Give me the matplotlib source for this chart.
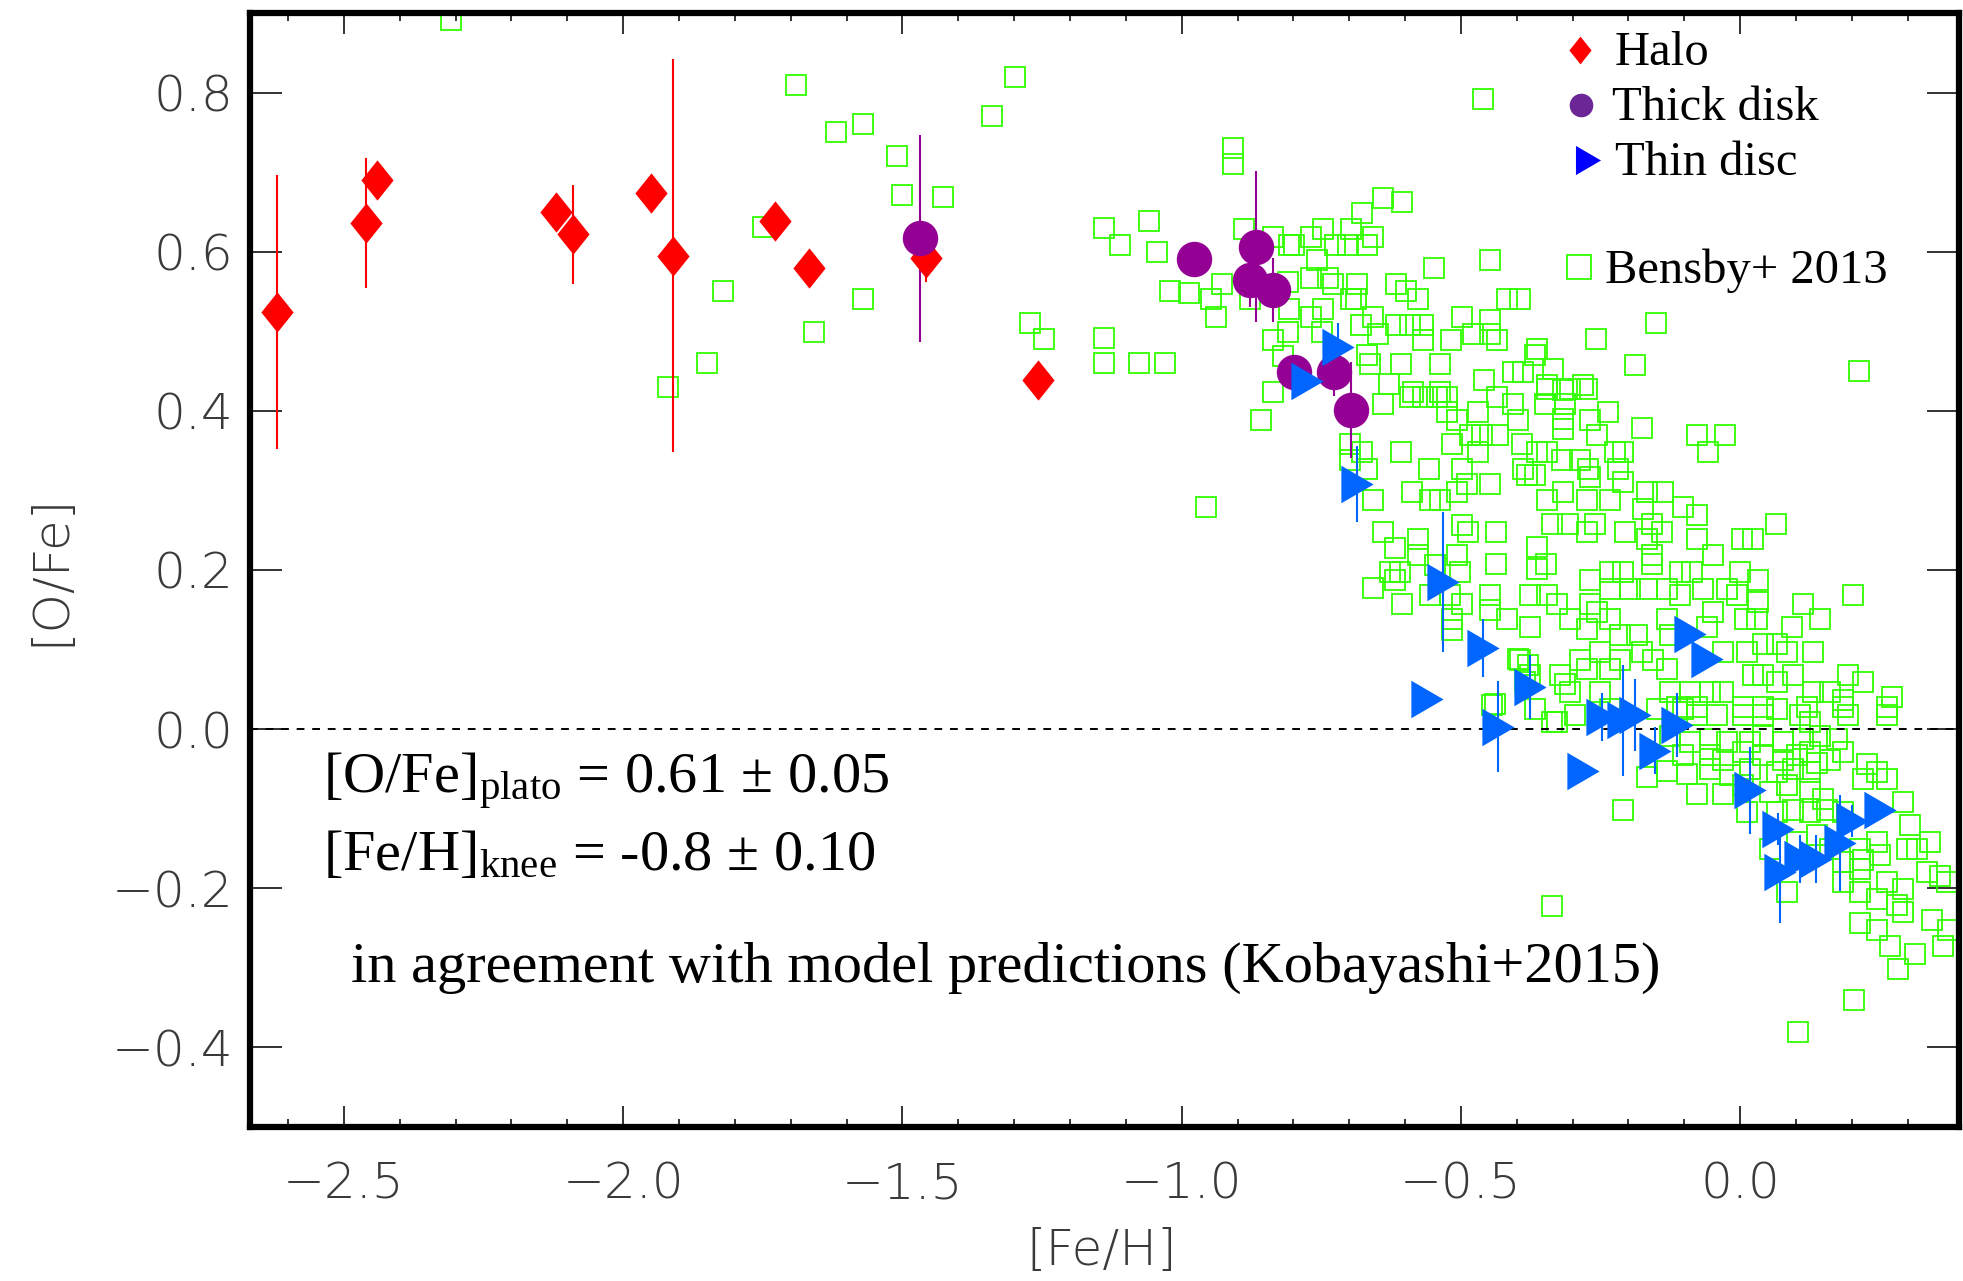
import numpy as np
import matplotlib.pyplot as plt
from matplotlib.ticker import MultipleLocator, FixedLocator

plt.rcParams['mathtext.fontset'] = 'custom'
plt.rcParams['mathtext.rm'] = 'Liberation Serif'
plt.rcParams['mathtext.it'] = 'Liberation Serif:italic'

# --- datos ---
halo_feh = [-2.619, -2.46, -2.44, -2.121, -2.09, -1.951, -1.910, -1.729, -1.668, -1.457, -1.258]
halo_ofe = [0.524, 0.636, 0.690, 0.650, 0.622, 0.674, 0.595, 0.639, 0.580, 0.592, 0.439]
halo_err = [0.172, 0.082, 0.0, 0.0, 0.062, 0.0, 0.247, 0.0, 0.0, 0.03, 0.0]

thick_feh = [-1.469, -0.978, -0.867, -0.877, -0.836, -0.799, -0.727, -0.697]
thick_ofe = [0.617, 0.591, 0.606, 0.565, 0.552, 0.449, 0.449, 0.401]
thick_err = [0.13, 0.015, 0.095, 0.035, 0.04, 0.02, 0.03, 0.06]

thin_feh = [-0.720, -0.775, -0.686, -0.532, -0.460, -0.561, -0.376, -0.433, -0.281, -0.247,
            -0.210, -0.188, -0.152, -0.113, -0.090, -0.059, 0.018, 0.068, 0.072, 0.108,
            0.135, 0.178, 0.200, 0.251]
thin_ofe = [0.480, 0.437, 0.308, 0.185, 0.102, 0.038, 0.053, 0.003, -0.052, 0.015,
            0.011, 0.018, -0.027, 0.005, 0.120, 0.088, -0.077, -0.125, -0.180, -0.163,
            -0.163, -0.143, -0.115, -0.102]
thin_err = [0.03, 0.0, 0.048, 0.088, 0.036, 0.0, 0.04, 0.057, 0.0, 0.03,
            0.07, 0.045, 0.03, 0.04, 0.0, 0.0, 0.055, 0.02, 0.063, 0.03,
            0.03, 0.06, 0.02, 0.0]

# Bensby+ 2013 ([Fe/H], [O/Fe])
bensby_pts = [
    (-2.309, 0.891), (-1.691, 0.809), (-1.298, 0.820), (-1.339, 0.770), (-1.619, 0.751),
    (-1.570, 0.761), (-1.509, 0.720), (-1.500, 0.671), (-1.428, 0.669), (-1.749, 0.631),
    (-1.821, 0.551), (-1.570, 0.540), (-1.659, 0.499), (-1.850, 0.460), (-1.919, 0.430),
    (-1.271, 0.510), (-1.247, 0.490), (-1.139, 0.492), (-1.139, 0.460), (-1.076, 0.460),
    (-1.029, 0.460), (-1.139, 0.630), (-1.110, 0.609), (-1.058, 0.639), (-1.045, 0.600),
    (-1.020, 0.550), (-0.957, 0.279), (-0.460, 0.792), (-0.908, 0.730), (-0.908, 0.710),
    (-0.336, -0.222), (-0.209, -0.101), (0.103, -0.380), (0.204, -0.340), (0.213, 0.450),
    (-0.150, 0.510), (-0.188, 0.458), (-0.258, 0.490), (-0.448, 0.589), (-0.549, 0.580),
    (-0.605, 0.663), (-0.639, 0.668), (-0.444, 0.030), (-0.336, 0.009), (-0.314, 0.057),
    (-0.677, 0.648), (-0.888, 0.629), (-0.836, 0.619), (-0.808, 0.609), (-0.799, 0.609),
    (-0.768, 0.619), (-0.747, 0.629), (-0.725, 0.609), (-0.702, 0.609), (-0.697, 0.629),
    (-0.668, 0.609), (-0.657, 0.619), (-0.758, 0.589), (-0.768, 0.567), (-0.738, 0.567),
    (-0.729, 0.560), (-0.686, 0.560), (-0.809, 0.562), (-0.928, 0.560), (-0.987, 0.548),
    (-0.947, 0.540), (-0.938, 0.518), (-0.877, 0.540), (-0.808, 0.528), (-0.768, 0.518),
    (-0.747, 0.528), (-0.697, 0.540), (-0.688, 0.540), (-0.657, 0.518), (-0.679, 0.508),
    (-0.648, 0.497), (-0.616, 0.560), (-0.598, 0.550), (-0.577, 0.540), (-0.417, 0.540),
    (-0.394, 0.540), (-0.616, 0.508), (-0.591, 0.508), (-0.568, 0.508), (-0.568, 0.489),
    (-0.498, 0.518), (-0.518, 0.489), (-0.478, 0.497), (-0.448, 0.497), (-0.435, 0.489),
    (-0.448, 0.514), (-0.364, 0.478), (-0.836, 0.489), (-0.818, 0.469), (-0.809, 0.499),
    (-0.749, 0.499), (-0.668, 0.470), (-0.663, 0.459), (-0.607, 0.459), (-0.537, 0.459),
    (-0.629, 0.434), (-0.458, 0.439), (-0.406, 0.449), (-0.388, 0.449), (-0.836, 0.424),
    (-0.586, 0.424), (-0.537, 0.424),
    (-0.858, 0.389), (-0.639, 0.409), (-0.591, 0.418), (-0.568, 0.418), (-0.543, 0.418),
    (-0.525, 0.418), (-0.525, 0.399), (-0.507, 0.389), (-0.469, 0.399), (-0.435, 0.418),
    (-0.406, 0.409), (-0.398, 0.389), (-0.484, 0.370), (-0.462, 0.370), (-0.433, 0.370),
    (-0.390, 0.358), (-0.364, 0.348), (-0.516, 0.358), (-0.469, 0.348), (-0.607, 0.348),
    (-0.698, 0.358), (-0.677, 0.348), (-0.698, 0.338), (-0.668, 0.327), (-0.557, 0.327),
    (-0.498, 0.327), (-0.489, 0.308), (-0.448, 0.308), (-0.381, 0.319), (-0.587, 0.298),
    (-0.555, 0.288), (-0.537, 0.288), (-0.507, 0.298), (-0.657, 0.288), (-0.639, 0.248),
    (-0.618, 0.228), (-0.577, 0.239), (-0.577, 0.219), (-0.498, 0.257), (-0.487, 0.248),
    (-0.437, 0.248), (-0.507, 0.219), (-0.437, 0.208), (-0.364, 0.229), (-0.364, 0.201),
    (-0.609, 0.197), (-0.627, 0.197), (-0.618, 0.187), (-0.657, 0.177), (-0.546, 0.206),
    (-0.501, 0.197), (-0.555, 0.169), (-0.519, 0.169), (-0.498, 0.157), (-0.605, 0.157),
    (-0.448, 0.169), (-0.448, 0.150), (-0.417, 0.138), (-0.376, 0.169), (-0.376, 0.128),
    (-0.516, 0.138), (-0.516, 0.125), (-0.398, 0.088), (-0.385, 0.059), (-0.380, 0.080),
    (-0.439, 0.031),
    (-0.367, 0.470), (-0.335, 0.453), (-0.346, 0.433), (-0.317, 0.426), (-0.281, 0.433),
    (-0.349, 0.409), (-0.313, 0.409), (-0.317, 0.390), (-0.317, 0.377), (-0.274, 0.428),
    (-0.304, 0.428), (-0.346, 0.428), (-0.236, 0.399), (-0.269, 0.389), (-0.256, 0.370),
    (-0.176, 0.379), (-0.077, 0.369), (-0.027, 0.369), (-0.057, 0.348), (-0.346, 0.348),
    (-0.389, 0.327), (-0.367, 0.319), (-0.319, 0.338), (-0.287, 0.338), (-0.272, 0.327),
    (-0.269, 0.317), (-0.224, 0.348), (-0.210, 0.348), (-0.218, 0.327), (-0.210, 0.311),
    (-0.346, 0.288), (-0.317, 0.298), (-0.274, 0.288), (-0.233, 0.288), (-0.167, 0.298),
    (-0.138, 0.298), (-0.174, 0.277), (-0.102, 0.279), (-0.077, 0.269), (-0.337, 0.258),
    (-0.308, 0.258), (-0.260, 0.258), (-0.274, 0.248), (-0.206, 0.248), (-0.158, 0.258),
    (-0.140, 0.248), (-0.167, 0.239), (-0.077, 0.239), (-0.048, 0.219), (0.004, 0.239),
    (0.023, 0.239), (0.064, 0.258), (-0.347, 0.208), (-0.158, 0.219), (-0.158, 0.208),
    (-0.269, 0.187), (-0.233, 0.197), (-0.210, 0.197), (-0.233, 0.176), (-0.197, 0.176),
    (-0.167, 0.176), (-0.107, 0.197), (-0.086, 0.197), (-0.131, 0.176), (-0.107, 0.169),
    (-0.066, 0.176), (0.000, 0.197), (0.032, 0.187), (-0.023, 0.176), (-0.005, 0.169),
    (0.032, 0.160), (0.113, 0.157), (0.143, 0.138), (0.202, 0.169), (-0.346, 0.169),
    (-0.328, 0.157), (-0.269, 0.157), (-0.256, 0.147), (-0.304, 0.138), (-0.274, 0.126),
    (-0.233, 0.138), (-0.215, 0.118), (-0.131, 0.138), (-0.125, 0.118), (-0.184, 0.118),
    (-0.176, 0.097), (-0.048, 0.147), (-0.059, 0.128), (0.009, 0.138), (0.030, 0.138),
    (0.093, 0.128), (0.041, 0.107), (0.066, 0.107), (0.084, 0.097), (0.013, 0.097),
    (-0.030, 0.097), (0.131, 0.097), (-0.394, 0.087), (-0.287, 0.087), (-0.251, 0.097),
    (-0.215, 0.087), (-0.156, 0.087), (-0.131, 0.075), (-0.376, 0.068), (-0.322, 0.068),
    (-0.274, 0.075), (-0.233, 0.075), (0.023, 0.068), (0.041, 0.068), (0.066, 0.059),
    (0.095, 0.068), (0.193, 0.068), (0.220, 0.059), (-0.304, 0.047), (-0.251, 0.047),
    (-0.125, 0.047), (-0.090, 0.047), (-0.054, 0.047), (-0.030, 0.047), (0.131, 0.047),
    (0.161, 0.047), (0.184, 0.036), (0.272, 0.040), (-0.113, 0.028), (-0.077, 0.028),
    (0.005, 0.028), (0.041, 0.028), (0.120, 0.028), (0.184, 0.028), (0.263, 0.028),
    (-0.367, 0.025), (-0.328, 0.009), (-0.296, 0.018), (-0.233, 0.025), (-0.149, 0.025),
    (-0.102, 0.025), (-0.077, 0.018), (-0.041, 0.018), (0.005, 0.018), (0.041, 0.018),
    (0.066, 0.025), (0.107, 0.018), (0.125, 0.009), (0.193, 0.018), (0.263, 0.018),
    (-0.125, -0.008), (-0.090, -0.016), (-0.054, -0.013), (-0.023, -0.016), (0.018, -0.016),
    (0.041, -0.008), (0.077, -0.016), (0.113, -0.013), (0.143, -0.008), (0.174, -0.013),
    (-0.102, -0.033), (-0.054, -0.033), (-0.030, -0.039), (0.005, -0.029), (0.041, -0.033),
    (0.077, -0.039), (0.102, -0.033), (0.125, -0.029), (0.161, -0.039), (0.184, -0.029),
    (-0.167, -0.060), (-0.131, -0.052), (-0.095, -0.057), (-0.054, -0.050), (-0.018, -0.058),
    (0.018, -0.050), (0.066, -0.054), (0.095, -0.050), (0.125, -0.054), (0.138, -0.042),
    (-0.077, -0.082), (-0.030, -0.082), (0.005, -0.070), (0.054, -0.079), (0.084, -0.070),
    (0.125, -0.075), (0.149, -0.088), (0.227, -0.044), (0.245, -0.054), (0.263, -0.063),
    (0.220, -0.063), (0.292, -0.092), (0.304, -0.121), (0.340, -0.142), (0.299, -0.151),
    (0.317, -0.151), (0.245, -0.142), (0.251, -0.158), (0.215, -0.151), (0.220, -0.164),
    (0.013, -0.104), (0.066, -0.104), (0.095, -0.101), (0.125, -0.104), (0.156, -0.101),
    (0.184, -0.104), (0.054, -0.151), (0.102, -0.142), (0.138, -0.133), (0.161, -0.151),
    (0.184, -0.167), (0.215, -0.176), (0.335, -0.180), (0.358, -0.184), (0.371, -0.192),
    (0.263, -0.192), (0.292, -0.201), (0.084, -0.205), (0.184, -0.192), (0.215, -0.205),
    (0.245, -0.214), (0.281, -0.221), (0.292, -0.230), (0.215, -0.243), (0.245, -0.252),
    (0.269, -0.272), (0.313, -0.283), (0.283, -0.302), (0.344, -0.240), (0.364, -0.272),
    (0.372, -0.252),
]
bensby_feh, bensby_ofe = np.array(bensby_pts).T

x_ticks = [-2.5, -2.0, -1.5, -1.0, -0.5, 0.0]
x_ticklabels = ['\u22122.5', '\u22122.0', '\u22121.5', '\u22121.0', '\u22120.5', '0.0']
y_ticks = [-0.4, -0.2, 0.0, 0.2, 0.4, 0.6, 0.8]
y_ticklabels = ['\u22120.4', '\u22120.2', '0.0', '0.2', '0.4', '0.6', '0.8']

# --- colores y marcadores ---
c_halo = '#ff0000'
c_thick = '#930093'
c_thin = '#0066ff'
c_bensby = '#33ff00'
diamond = [(0, 1), (0.8, 0), (0, -1), (-0.8, 0), (0, 1)]
tri_right = [(-0.86, 1), (0.86, 0), (-0.86, -1), (-0.86, 1)]

fig = plt.figure(figsize=(19.63, 12.81), dpi=100)
ax = fig.add_axes([0.1274, 0.1202, 0.8706, 0.8697])

# Bensby+ 2013: cuadrados abiertos
ax.plot(bensby_feh, bensby_ofe, ls='none', marker='s', ms=14, mfc='none',
        mec=c_bensby, mew=1.3, zorder=2)

# linea de referencia en 0
ax.axhline(0.0, color='black', lw=1.4, ls=(0, (4, 4)), zorder=3)

# halo
ax.errorbar(halo_feh, halo_ofe, yerr=halo_err, fmt='none', ecolor=c_halo, elinewidth=1.5, zorder=4)
ax.plot(halo_feh, halo_ofe, ls='none', marker=diamond, ms=29, color=c_halo, mec='none', zorder=5)

# disco grueso
ax.errorbar(thick_feh, thick_ofe, yerr=thick_err, fmt='none', ecolor=c_thick, elinewidth=1.5, zorder=4)
ax.plot(thick_feh, thick_ofe, ls='none', marker='o', ms=25.5, color=c_thick, mec='none', zorder=5)

# disco delgado
ax.errorbar(thin_feh, thin_ofe, yerr=thin_err, fmt='none', ecolor=c_thin, elinewidth=1.5, zorder=4)
ax.plot(thin_feh, thin_ofe, ls='none', marker=tri_right, ms=27, color=c_thin, mec='none', zorder=5)

# ejes
ax.set_xlim(-2.668, 0.392)
ax.set_ylim(-0.5, 0.9)
ax.xaxis.set_major_locator(FixedLocator(x_ticks))
ax.set_xticklabels(x_ticklabels, fontweight='light')
ax.xaxis.set_minor_locator(MultipleLocator(0.1))
ax.yaxis.set_major_locator(FixedLocator(y_ticks))
ax.set_yticklabels(y_ticklabels, fontweight='light')
ax.tick_params(which='both', direction='in', top=True, right=True, color='#222222')
ax.tick_params(axis='x', which='major', length=15, width=1.3, pad=24, labelsize=36, labelcolor='#3a3a3a')
ax.tick_params(axis='x', which='minor', length=6, width=1.3)
ax.tick_params(axis='y', which='major', length=23, width=1.3, pad=12, labelsize=36, labelcolor='#3a3a3a')
for s in ax.spines.values():
    s.set_linewidth(4.5)
    s.set_color('black')

ax.set_xlabel('[Fe/H]', fontsize=36, color='#3a3a3a', fontweight='light')
ax.set_ylabel('[O/Fe]', fontsize=36, color='#3a3a3a', fontweight='light')
ax.xaxis.set_label_coords(0.4985, -0.090)
ax.yaxis.set_label_coords(-0.103, 0.5)

# anotaciones
serif = 'Liberation Serif'
ax.text(-2.538, -0.080, r'[O/Fe]$_{\mathrm{plato}}$ = 0.61 ± 0.05', fontsize=42,
        family=serif, va='baseline', ha='left')
ax.text(-2.538, -0.177, r'[Fe/H]$_{\mathrm{knee}}$ = -0.8 ± 0.10', fontsize=42,
        family=serif, va='baseline', ha='left')
ax.text(-2.488, -0.317, 'in agreement with model predictions (Kobayashi+2015)', fontsize=42,
        family=serif, va='baseline', ha='left')

# leyenda manual
def fx(px):
    return (px - 250) / 1709.0

def fy(py):
    return (1127 - py) / 1114.0

ax.plot([fx(1580)], [fy(50)], transform=ax.transAxes, marker=diamond, ms=20,
        color='#ff0000', mec='none', ls='none', clip_on=False)
ax.plot([fx(1581)], [fy(105)], transform=ax.transAxes, marker='o', ms=17,
        color='#6b2796', mec='none', ls='none', clip_on=False)
ax.plot([fx(1588)], [fy(160)], transform=ax.transAxes, marker=tri_right, ms=21,
        color='#0000ff', mec='none', ls='none', clip_on=False)
ax.plot([fx(1579)], [fy(267)], transform=ax.transAxes, marker='s', ms=17,
        mfc='none', mec=c_bensby, mew=1.3, ls='none', clip_on=False)
legend_labels = ['Halo', 'Thick disk', 'Thin disc', 'Bensby+ 2013']
legend_x = [1615, 1612, 1615, 1605]
legend_y = [65, 120, 175, 283]
for lab, lx, ly in zip(legend_labels, legend_x, legend_y):
    ax.text(fx(lx), fy(ly), lab, transform=ax.transAxes, fontsize=35,
            family=serif, va='baseline', ha='left')

fig.savefig('out.png', dpi=100)
